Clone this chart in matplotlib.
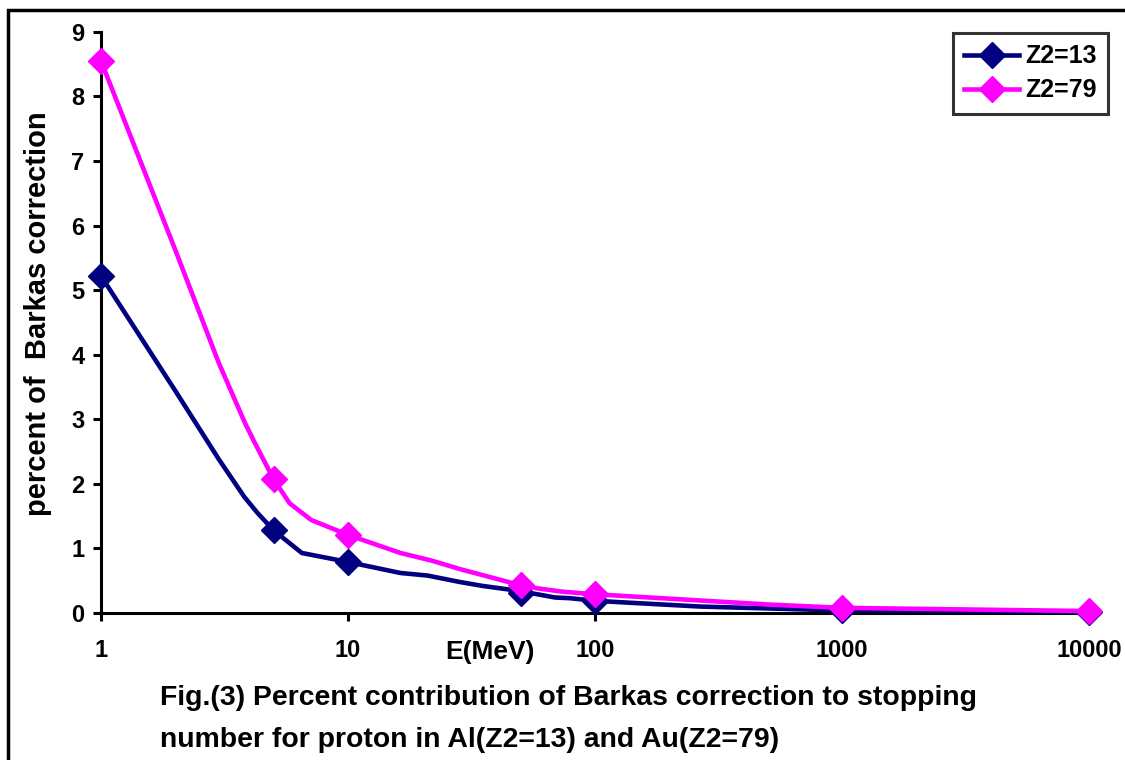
import matplotlib
matplotlib.use("Agg")
import matplotlib.pyplot as plt
from matplotlib.patches import Rectangle

plt.rcParams['font.family'] = ['Liberation Sans', 'DejaVu Sans']
plt.rcParams['font.weight'] = 'bold'

# Data (E in MeV, percent of Barkas correction)
e_al = [1, 2, 3, 3.8, 4.3, 5, 6.5, 10, 16.3, 21, 28.4, 35, 45.6, 50, 56.6, 69, 79, 100, 123, 267, 790, 1000, 10000]
v_al = [5.22, 3.44, 2.38, 1.80, 1.55, 1.28, 0.93, 0.79, 0.62, 0.58, 0.48, 0.42, 0.36, 0.31, 0.30, 0.24, 0.23, 0.19, 0.17, 0.10, 0.05, 0.04, 0.02]
e_au = [1, 2, 3, 3.83, 4.2, 5, 5.8, 7.1, 10, 16.3, 21.9, 28.4, 50, 59, 74, 100, 123, 512, 1000, 10000]
v_au = [8.55, 5.62, 3.87, 2.94, 2.63, 2.07, 1.70, 1.44, 1.21, 0.93, 0.81, 0.68, 0.43, 0.38, 0.33, 0.29, 0.27, 0.13, 0.08, 0.03]
marker_e = [1, 5, 10, 50, 100, 1000, 10000]
labels = ["Z2=13", "Z2=79"]
x_ticks = [1, 10, 100, 1000, 10000]
x_tick_labels = ["1", "10", "100", "1000", "10000"]
y_ticks = list(range(0, 10))

fig = plt.figure(figsize=(11.25, 7.6), dpi=100)
ax = fig.add_axes([0.0898, 0.1934, 0.968 - 0.0898, 0.958 - 0.1934])

def mk(es):
    return [i for i, e in enumerate(es) if e in marker_e]

ax.plot(e_al, v_al, color='#000080', lw=3.3, marker='D', markersize=13.5,
        markevery=mk(e_al), clip_on=False, label=labels[0], zorder=3)
ax.plot(e_au, v_au, color='#FF00FF', lw=3.3, marker='D', markersize=13.5,
        markevery=mk(e_au), clip_on=False, label=labels[1], zorder=4)

ax.set_xscale('log')
ax.set_xlim(1, 10000)
ax.set_ylim(0, 9)
ax.set_xticks(x_ticks)
ax.set_xticklabels(x_tick_labels)
ax.xaxis.set_minor_locator(matplotlib.ticker.NullLocator())
ax.set_yticks(y_ticks)
for s in ['top', 'right']:
    ax.spines[s].set_visible(False)
for s in ['left', 'bottom']:
    ax.spines[s].set_linewidth(2.2)
ax.tick_params(axis='both', direction='out', length=6, width=2.2, labelsize=17)
ax.tick_params(axis='x', pad=13)
ax.tick_params(axis='y', pad=6)
for lab in ax.get_xticklabels() + ax.get_yticklabels():
    lab.set_fontweight('bold')

ax.set_ylabel("percent of  Barkas correction", fontsize=21, fontweight='bold')
ax.yaxis.set_label_coords(-0.05, 0.515)
fig.text(490 / 1125, 1 - 652 / 760, "E(MeV)", fontsize=19, fontweight='bold', ha='center', va='center')

leg = ax.legend(loc='upper right', bbox_to_anchor=(1108 / 1125, 1 - 33 / 760), bbox_transform=fig.transFigure,
                frameon=True, fancybox=False, fontsize=18, handlelength=2.2, borderpad=0.45,
                labelspacing=0.4, handletextpad=0.25, borderaxespad=0)
leg.get_frame().set_edgecolor('black')
leg.get_frame().set_linewidth(2.2)
for t in leg.get_texts():
    t.set_fontweight('bold')

fig.text(160 / 1125, 1 - 698 / 760, "Fig.(3) Percent contribution of Barkas correction to stopping",
         fontsize=20.4, fontweight='bold', ha='left', va='center')
fig.text(160 / 1125, 1 - 740 / 760, "number for proton in Al(Z2=13) and Au(Z2=79)",
         fontsize=20.4, fontweight='bold', ha='left', va='center')

# outer frame
fig.patches.append(Rectangle((8 / 1125, -0.05), 1.2, 1 - 10 / 760 + 0.05, transform=fig.transFigure,
                             fill=False, edgecolor='black', linewidth=2.5))

fig.savefig("out.png", dpi=100)
